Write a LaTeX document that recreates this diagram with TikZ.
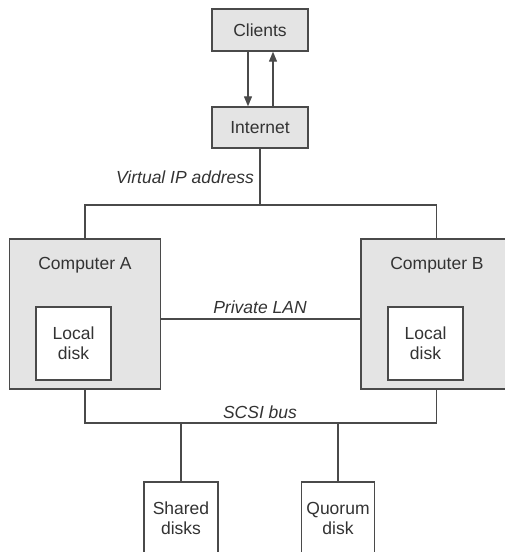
\documentclass[tikz,border=0pt]{standalone}
\usepackage{fontspec}
\setmainfont{Liberation Sans}
\usetikzlibrary{arrows.meta}
\definecolor{boxgray}{HTML}{E4E4E4}
\definecolor{edge}{HTML}{4A4A4A}
\definecolor{txt}{HTML}{333333}
\begin{document}
\begin{tikzpicture}[x=1pt,y=-1pt,
  font=\fontsize{17.5}{21}\selectfont, text=txt,
  graybox/.style={draw=edge, line width=1.4pt, fill=boxgray, inner sep=0pt},
  whitebox/.style={draw=edge, line width=1.4pt, fill=white, inner sep=0pt, align=center},
  wire/.style={draw=edge, line width=1.3pt},
  tip/.style={-{Triangle[length=10pt,width=8pt]}},
  lbl/.style={font=\fontsize{17.5}{21}\selectfont\itshape, inner sep=0pt}]
\useasboundingbox (0,0) rectangle (505,552);
% top boxes
\node[graybox, minimum width=96, minimum height=42] (cl) at (260,30) {Clients};
\node[graybox, minimum width=96, minimum height=41] (in) at (260,127.5) {Internet};
\draw[wire, tip] (cl.south -| 248,0) -- (in.north -| 248,0);
\draw[wire, tip] (in.north -| 273,0) -- (cl.south -| 273,0);
% computers
\node[graybox, minimum width=151, minimum height=150] (ca) at (85,314) {};
\node[graybox, minimum width=151, minimum height=150] (cb) at (436.5,314) {};
\node[inner sep=0pt] (cat) at (85,265) {Computer A};
\node[inner sep=0pt] (cbt) at (437,265) {Computer B};
\node[whitebox, minimum width=75, minimum height=73] (lda) at (73.5,343.5) {Local\\[-1pt]disk};
\node[whitebox, minimum width=75, minimum height=73] (ldb) at (425.5,343.5) {Local\\[-1pt]disk};
% virtual IP
\coordinate (vip) at (260,205);
\draw[wire] (in.south) -- (vip);
\draw[wire] (ca.north) |- (vip) -| (cb.north);
\node[lbl] (viplbl) at (185,177) {Virtual IP address};
% private LAN
\draw[wire] ([yshift=-5pt]ca.east) -- ([yshift=-5pt]cb.west);
\node[lbl] (lanlbl) at (260,307) {Private LAN};
% SCSI bus
\coordinate (busl) at (85,423);
\coordinate (busr) at (436.5,423);
\draw[wire] (ca.south) -- (busl) -- (busr) -- (cb.south);
\node[lbl] (scsilbl) at (260,412) {SCSI bus};
\node[whitebox, minimum width=74, minimum height=73] (sh) at (181,518.5) {Shared\\[-1pt]disks};
\node[whitebox, minimum width=73, minimum height=73] (qu) at (338,518.5) {Quorum\\[-1pt]disk};
\draw[wire] (sh.north |- busl) -- (sh.north);
\draw[wire] (qu.north |- busl) -- (qu.north);
\end{tikzpicture}
\end{document}
